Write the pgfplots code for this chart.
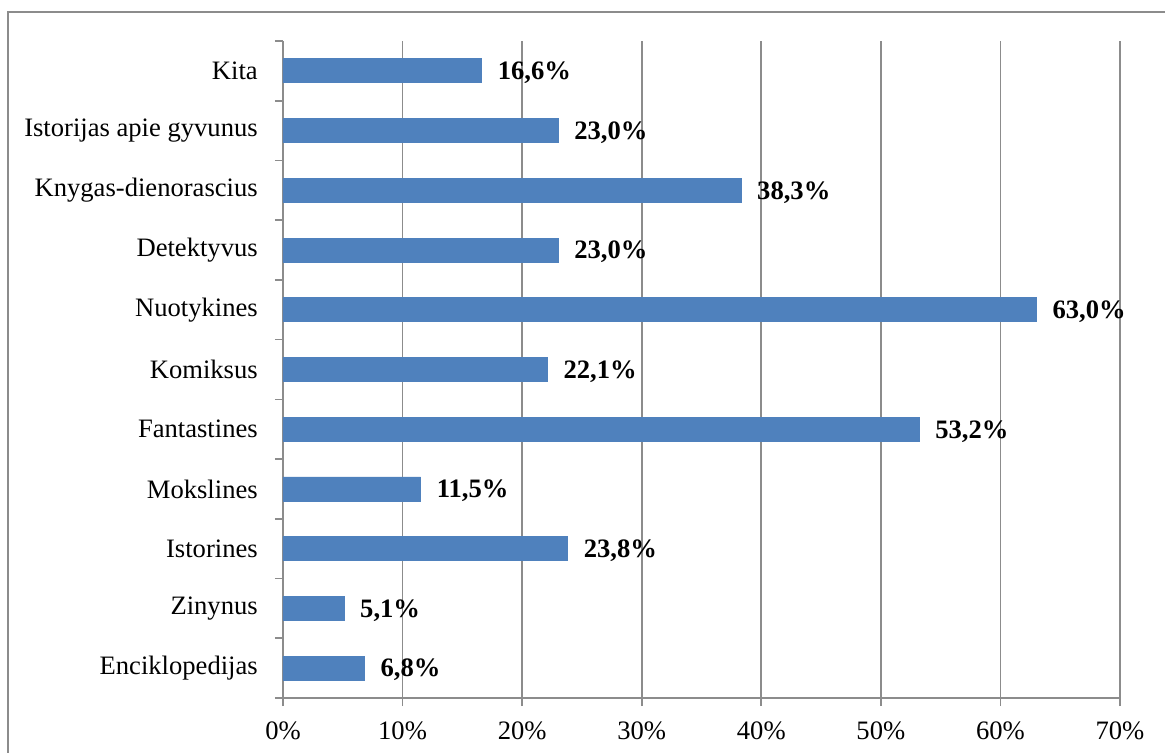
\documentclass[border=0pt]{standalone}
\usepackage{fontspec}
\setmainfont{Liberation Serif}
\usepackage{pgfplots}
\pgfplotsset{compat=1.18}
\definecolor{barblue}{HTML}{4F81BD}
\definecolor{axgray}{HTML}{8C8C8C}
\begin{document}
\fontsize{13.3pt}{16pt}\selectfont
\begin{tikzpicture}
\begin{axis}[
  at={(0,0)}, anchor=south west,
  scale only axis,
  width=418.5pt, height=328.5pt,
  xbar, bar width=12pt,
  xmin=0, xmax=70,
  ymin=-0.5, ymax=10.5,
  xtick={0,10,...,70},
  xticklabel={\pgfmathprintnumber{\tick}\%},
  /pgf/number format/assume math mode=true,
  ytick={0,...,10},
  yticklabels={Enciklopedijas,Zinynus,Istorines,Mokslines,Fantastines,Komiksus,Nuotykines,Detektyvus,Knygas-dienorascius,Istorijas apie gyvunus,Kita},
  minor ytick={-0.5,0.5,...,10.5},
  axis x line*=bottom,
  axis y line*=left,
  axis line style={axgray, line width=0.8pt},
  xmajorgrids,
  grid style={axgray, line width=0.8pt},
  tick align=outside,
  major x tick style={axgray, line width=0.8pt},
  major tick length=4pt,
  major y tick style={draw=none},
  minor y tick style={axgray, line width=0.8pt},
  minor tick length=4pt,
  yticklabel style={font=\fontsize{13.3pt}{16pt}\selectfont, xshift=-4pt},
  xticklabel style={font=\fontsize{13.3pt}{16pt}\selectfont, yshift=-3.5pt},
  nodes near coords={\pgfmathprintnumber[fixed,fixed zerofill,precision=1,use comma]{\pgfplotspointmeta}\%},
  nodes near coords style={anchor=west, xshift=3.5pt, yshift=-1pt, font=\bfseries\fontsize{13.3pt}{16pt}\selectfont, black},
  clip=false,
]
\addplot[fill=barblue, draw=barblue] coordinates {
  (6.8,0) (5.1,1) (23.8,2) (11.5,3) (53.2,4) (22.1,5) (63.0,6) (23.0,7) (38.3,8) (23.0,9) (16.6,10)
};
\end{axis}
\draw[axgray, line width=0.8pt] (-137.5pt,-27.5pt) -- (-137.5pt,343pt) -- (441.5pt,343pt);
\pgfresetboundingbox
\path[use as bounding box] (-141.5pt,-27.5pt) rectangle (441pt,349pt);
\end{tikzpicture}
\end{document}
